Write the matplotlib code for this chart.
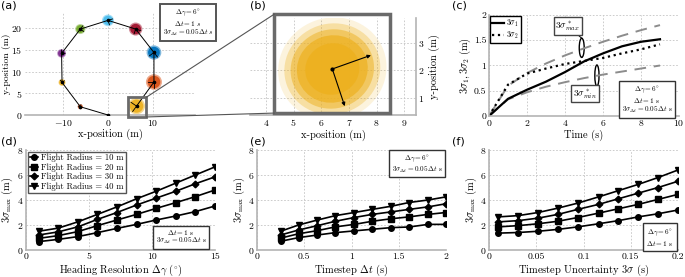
import matplotlib
matplotlib.use('Agg')
import matplotlib.pyplot as plt
from matplotlib.patches import Circle, Ellipse, Rectangle, ConnectionPatch

# ---- data ----
# (a) flight path waypoints and uncertainty blob radii
path_x = [0.0, -6.2, -10.3, -10.4, -6.2, 0.0, 6.2, 10.3, 10.3, 6.4]
path_y = [0.0, 1.9, 7.5, 14.2, 19.8, 21.8, 19.8, 14.4, 7.6, 2.05]
blob_r = [0.6, 0.8, 1.0, 1.15, 1.35, 1.5, 1.65, 1.8, 1.9]
blob_colors = ['#D95319', '#EDB120', '#7E2F8E', '#77AC30', '#4DBEEE',
               '#A2142F', '#0072BD', '#D95319', '#EDB120']

# (b) final cloud: centre, 3-sigma semi axes, orientation, principal arrows
cloud_xy = (6.4, 2.05)
cloud_axes = (1.52, 1.43)
cloud_angle = 19.7
arrow_tips = [(7.8, 2.55), (6.85, 0.7)]

# (c) sigma growth over time
time_s = [0, 1, 2, 3, 4, 5, 6, 7, 8, 9]
sig1 = [0.0, 0.34, 0.52, 0.68, 0.87, 1.08, 1.24, 1.38, 1.47, 1.52]
sig2 = [0.0, 0.62, 0.84, 0.94, 1.03, 1.09, 1.15, 1.24, 1.32, 1.42]
sig_max = [0.0, 0.6, 0.85, 1.04, 1.2, 1.34, 1.47, 1.59, 1.7, 1.8]
sig_min = [0.0, 0.33, 0.47, 0.58, 0.67, 0.75, 0.82, 0.88, 0.94, 1.0]

# (d) heading resolution sweep
heading = [1, 2.56, 4.11, 5.67, 7.22, 8.78, 10.33, 11.89, 13.44, 15]
d_vals = [
    [0.67, 0.85, 1.07, 1.39, 1.73, 2.05, 2.4, 2.72, 3.07, 3.52],
    [0.93, 1.15, 1.47, 1.95, 2.4, 2.85, 3.33, 3.79, 4.27, 4.8],
    [1.2, 1.45, 1.85, 2.45, 3.0, 3.6, 4.15, 4.7, 5.3, 5.85],
    [1.5, 1.75, 2.25, 2.85, 3.45, 4.1, 4.7, 5.35, 6.0, 6.65],
]
# (e) timestep sweep
timestep = [0.25, 0.44, 0.64, 0.83, 1.03, 1.22, 1.42, 1.61, 1.81, 2.0]
e_vals = [
    [0.7, 0.99, 1.2, 1.39, 1.53, 1.66, 1.79, 1.84, 2.05, 2.05],
    [0.95, 1.3, 1.55, 1.85, 2.05, 2.3, 2.5, 2.65, 2.85, 3.0],
    [1.2, 1.6, 1.95, 2.3, 2.6, 2.85, 3.05, 3.25, 3.45, 3.7],
    [1.5, 2.0, 2.4, 2.75, 3.0, 3.25, 3.5, 3.8, 4.0, 4.25],
]
# (f) timestep uncertainty sweep
uncert = [0.01, 0.031, 0.052, 0.073, 0.094, 0.116, 0.137, 0.158, 0.179, 0.2]
f_vals = [
    [1.35, 1.4, 1.5, 1.65, 1.85, 2.1, 2.35, 2.65, 2.9, 3.2],
    [1.85, 1.95, 2.1, 2.3, 2.6, 2.95, 3.3, 3.65, 4.05, 4.45],
    [2.25, 2.35, 2.55, 2.85, 3.25, 3.65, 4.1, 4.55, 5.0, 5.5],
    [2.65, 2.75, 3.0, 3.35, 3.75, 4.25, 4.75, 5.25, 5.8, 6.4],
]
radius_labels = ['Flight Radius = 10 m', 'Flight Radius = 20 m',
                 'Flight Radius = 30 m', 'Flight Radius = 40 m']
markers = ['o', 's', 'D', 'v']

plt.rcParams.update({
    'font.family': 'cmr10',
    'mathtext.fontset': 'cm',
    'axes.formatter.use_mathtext': True,
    'font.size': 7,
})

W, H = 685, 277
TICK = 7.0
LAB = 7.5
fig = plt.figure(figsize=(W / 100, H / 100), dpi=100)


def px(l, t, r, b):
    return [l / W, 1 - b / H, (r - l) / W, (b - t) / H]


def style(ax, hide_left=False):
    for s in ['top', 'right']:
        ax.spines[s].set_visible(False)
    for s in ['left', 'bottom']:
        ax.spines[s].set_color('#b4b4b4')
        ax.spines[s].set_linewidth(1.2)
    if hide_left:
        ax.spines['left'].set_visible(False)
    ax.grid(True, linestyle=(0, (2, 2)), color='#c4c4c4', linewidth=0.6)
    ax.set_axisbelow(True)
    ax.tick_params(length=0, pad=1.8, labelsize=TICK)


def labels(ax, xl, yl, xy=None, yx=None, ysize=LAB):
    ax.set_xlabel(xl, fontsize=LAB, labelpad=1)
    ax.set_ylabel(yl, fontsize=ysize, labelpad=1)
    if xy is not None:
        ax.xaxis.set_label_coords(0.5, xy)
    if yx is not None:
        ax.yaxis.set_label_coords(yx, 0.5)


def note(x, y, txt, size=5.2, ec='#333333', lw=1.0):
    fig.text(x / W, 1 - y / H, txt, ha='center', va='center', fontsize=size,
             multialignment='center', linespacing=0.95,
             bbox=dict(boxstyle='square,pad=0.4', fc='white', ec=ec, lw=lw))


def panel_label(x, y, s):
    fig.text(x / W, 1 - y / H, s, fontsize=8, family='DejaVu Sans',
             ha='left', va='center')


# ---- (a) ----
ax_a = fig.add_axes(px(25, 13, 195, 115))
style(ax_a, hide_left=True)
ax_a.set_xlim(-18.6, 19.5)
ax_a.set_ylim(0, 23.5)
ax_a.set_xticks([-10, 0, 10])
ax_a.set_yticks([0, 5, 10, 15, 20])
for cx, cy, r, c in zip(path_x[1:], path_y[1:], blob_r, blob_colors):
    ax_a.add_patch(Circle((cx, cy), r, color=c, alpha=0.5, lw=0, zorder=2))
    ax_a.add_patch(Circle((cx, cy), r * 0.8, color=c, alpha=0.95, lw=0, zorder=2))
ax_a.plot(path_x, path_y, color='black', lw=0.7, zorder=3)
ax_a.plot(path_x, path_y, 'o', color='black', ms=1.6, zorder=4)
for i in range(1, len(path_x)):
    dx = path_x[i] - path_x[i - 1]
    dy = path_y[i] - path_y[i - 1]
    n = (dx ** 2 + dy ** 2) ** 0.5
    r = blob_r[i - 1] * 0.8
    ux, uy = dx / n * r, dy / n * r
    ax_a.plot([path_x[i], path_x[i] + ux], [path_y[i], path_y[i] + uy],
              color='black', lw=0.6, zorder=4)
    ax_a.plot([path_x[i], path_x[i] + uy], [path_y[i], path_y[i] - ux],
              color='black', lw=0.6, zorder=4)
ax_a.add_patch(Rectangle((4.5, -0.45), 4.1, 4.55, fill=False, ec='#6a6a6a',
                         lw=2, clip_on=False, zorder=5))
labels(ax_a, 'x-position (m)', 'y-position (m)', yx=-0.082, ysize=7)
note(188, 23, '$\\Delta\\gamma = 6^{\\circ}$\n$\\Delta t = 1\\ s$\n'
     '$3\\sigma_{\\Delta t} = 0.05\\Delta t\\ s$', ec='#555555', lw=1.4)

# ---- (b) ----
ax_b = fig.add_axes(px(250, 18, 416, 115))
style(ax_b, hide_left=True)
ax_b.spines['right'].set_visible(True)
ax_b.spines['right'].set_color('#b4b4b4')
ax_b.spines['right'].set_linewidth(1.2)
ax_b.set_xlim(3.42, 9.43)
ax_b.set_ylim(0.38, 3.9)
ax_b.set_xticks([4, 5, 6, 7, 8, 9])
ax_b.set_yticks([1, 2, 3])
ax_b.yaxis.tick_right()
ax_b.yaxis.set_label_position('right')
for k, a in zip([1.3, 1.15, 1.0, 0.85, 0.65], [0.15, 0.3, 0.5, 0.7, 0.9]):
    ax_b.add_patch(Ellipse(cloud_xy, 2 * cloud_axes[0] * k, 2 * cloud_axes[1] * k,
                           angle=cloud_angle, color='#EDB120', alpha=a, lw=0))
for tx, ty in arrow_tips:
    ax_b.annotate('', xy=(tx, ty), xytext=cloud_xy,
                  arrowprops=dict(arrowstyle='-|>', color='black', lw=0.8,
                                  mutation_scale=5, shrinkA=0, shrinkB=0))
ax_b.plot(*cloud_xy, 'o', color='black', ms=2)
ax_b.add_patch(Rectangle((4.3, 0.45), 4.2, 3.59, fill=False, ec='#6a6a6a',
                         lw=2.5, clip_on=False, zorder=5))
ax_b.set_xlabel('x-position (m)', fontsize=LAB, labelpad=1)
ax_b.set_ylabel('y-position (m)', fontsize=LAB, labelpad=3)

for ya, yb in [(4.1, 4.04), (-0.45, 0.45)]:
    con = ConnectionPatch(xyA=(8.6, ya), coordsA=ax_a.transData,
                          xyB=(4.3, yb), coordsB=ax_b.transData,
                          color='#555555', lw=0.8)
    fig.add_artist(con)

# ---- (c) ----
ax_c = fig.add_axes(px(489, 15, 679, 116))
style(ax_c)
ax_c.set_xlim(0, 10)
ax_c.set_ylim(0, 2)
ax_c.set_xticks([0, 2, 4, 6, 8, 10])
ax_c.set_yticks([0, 0.5, 1, 1.5, 2])
ax_c.set_yticklabels(['0', '0.5', '1', '1.5', '2'])
ax_c.plot(time_s, sig_max, color='#8c8c8c', lw=1.4, dashes=(6, 4))
ax_c.plot(time_s, sig_min, color='#8c8c8c', lw=1.4, dashes=(6, 4))
ax_c.plot(time_s, sig1, color='black', lw=1.6, label='$3\\sigma_1$')
ax_c.plot(time_s, sig2, color='black', lw=1.6, linestyle=':', label='$3\\sigma_2$')
ax_c.legend(loc='upper left', fontsize=5.6, handlelength=1.6, handletextpad=0.3,
            borderpad=0.2, labelspacing=0.1, borderaxespad=0.15,
            fancybox=False, framealpha=1, edgecolor='black')
ax_c.add_patch(Ellipse((4.88, 1.35), 0.26, 0.38, fill=False, ec='black', lw=1))
ax_c.add_patch(Ellipse((5.68, 0.8), 0.22, 0.42, fill=False, ec='black', lw=1))
ax_c.annotate('$3\\sigma^*_{max}$', xy=(4.88, 1.54), xytext=(4.15, 1.78),
              ha='center', va='center', fontsize=6.8,
              bbox=dict(boxstyle='square,pad=0.2', fc='white', ec='#444444', lw=1),
              arrowprops=dict(arrowstyle='-', color='black', lw=0.7, shrinkA=0, shrinkB=0))
ax_c.annotate('$3\\sigma^*_{min}$', xy=(5.66, 0.59), xytext=(5.04, 0.44),
              ha='center', va='center', fontsize=6.8,
              bbox=dict(boxstyle='square,pad=0.2', fc='white', ec='#444444', lw=1),
              arrowprops=dict(arrowstyle='-', color='black', lw=0.7, shrinkA=0, shrinkB=0))
labels(ax_c, 'Time (s)', '$3\\sigma_1, 3\\sigma_2$ (m)')
note(647, 100, '$\\Delta\\gamma = 6^{\\circ}$\n$\\Delta t = 1$ s\n'
     '$3\\sigma_{\\Delta t} = 0.05\\Delta t$ s')

# ---- bottom row ----
bottom = [
    (px(26, 150, 215, 250), heading, d_vals, (0, 15), [0, 5, 10, 15],
     'Heading Resolution $\\Delta\\gamma$ ($^{\\circ}$)', -0.058),
    (px(257, 150, 446, 250), timestep, e_vals, (0, 2), [0, 0.5, 1, 1.5, 2],
     'Timestep $\\Delta t$ (s)', None),
    (px(489, 150, 678, 250), uncert, f_vals, (0, 0.2), [0, 0.05, 0.1, 0.15, 0.2],
     'Timestep Uncertainty $3\\sigma$ (s)', None),
]
axes_bottom = []
for rect, xs, vals, xl, xt, xlabel, yx in bottom:
    ax = fig.add_axes(rect)
    style(ax)
    for ys, m, lab in zip(vals, markers, radius_labels):
        ax.plot(xs, ys, color='black', lw=1.2, marker=m, ms=4 if m != 'D' else 3.4,
                label=lab)
    ax.set_xlim(*xl)
    ax.set_ylim(0, 8)
    ax.set_xticks(xt)
    ax.set_xticklabels([('%g' % v) for v in xt])
    ax.set_yticks([0, 2, 4, 6, 8])
    labels(ax, xlabel, '$3\\sigma_{\\rm max}$ (m)', xy=-0.13, yx=yx)
    axes_bottom.append(ax)

axes_bottom[0].legend(loc='upper left', fontsize=6.2, handlelength=1.0,
                      handletextpad=0.3, borderpad=0.25, labelspacing=0.12,
                      borderaxespad=0.2, fancybox=False, framealpha=1,
                      edgecolor='#555555')
note(181, 237, '$\\Delta t = 1$ s\n$3\\sigma_{\\Delta t} = 0.05\\Delta t$ s')
note(417, 164, '$\\Delta\\gamma = 6^{\\circ}$\n$3\\sigma_{\\Delta t} = 0.05\\Delta t$ s')
note(660, 238, '$\\Delta\\gamma = 6^{\\circ}$\n$\\Delta t = 1$ s')

panel_label(1, 6, '(a)')
panel_label(250, 6, '(b)')
panel_label(452, 6, '(c)')
panel_label(1, 141, '(d)')
panel_label(250, 141, '(e)')
panel_label(452, 141, '(f)')

fig.savefig('out.png', dpi=100)
